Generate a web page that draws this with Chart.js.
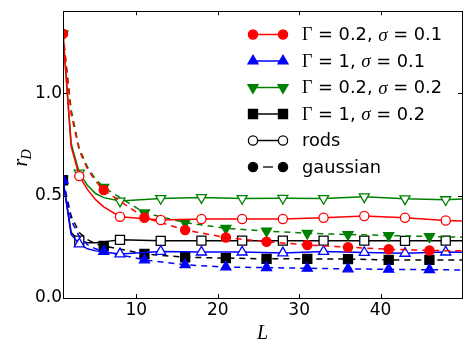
<!DOCTYPE html>
<html>
<head>
<meta charset="utf-8">
<script src="https://cdn.jsdelivr.net/npm/chart.js@4.4.0/dist/chart.umd.min.js"></script>
<style>
  html, body { margin: 0; padding: 0; background: #fff; }
  #wrap { width: 472px; height: 354px; }
</style>
</head>
<body>
<div id="wrap"><canvas id="rdChart" width="472" height="354"></canvas></div>
<script>
// Valores de L (tamano del sistema) y marcadores
const rodsL = [1, 2, 3, 4, 5, 6, 8, 13, 18, 23, 28, 33, 38, 43, 48, 50];
const gaussL = [1, 2, 3, 4, 5, 6, 11, 16, 21, 26, 31, 36, 41, 46, 50];
const rodsMarks = [3, 8, 13, 18, 23, 28, 33, 38, 43, 48];
const gaussMarks = [1, 6, 11, 16, 21, 26, 31, 36, 41, 46];

// r_D para cada caso (rods = linea continua, gaussian = linea discontinua)
const redRods = [1.29, 0.74, 0.595, 0.53, 0.48, 0.445, 0.397, 0.381, 0.386, 0.386, 0.386, 0.392, 0.400, 0.392, 0.378, 0.376];
const blueRods = [0.575, 0.31, 0.264, 0.240, 0.230, 0.225, 0.215, 0.227, 0.224, 0.224, 0.220, 0.227, 0.222, 0.218, 0.224, 0.223];
const greenRods = [1.29, 0.754, 0.61, 0.55, 0.51, 0.49, 0.473, 0.486, 0.490, 0.486, 0.487, 0.486, 0.494, 0.484, 0.480, 0.483];
const blackRods = [0.575, 0.32, 0.28, 0.27, 0.27, 0.274, 0.284, 0.279, 0.280, 0.280, 0.280, 0.280, 0.280, 0.279, 0.280, 0.280];

const redGauss = [1.29, 0.90, 0.72, 0.63, 0.57, 0.527, 0.392, 0.332, 0.295, 0.275, 0.259, 0.248, 0.238, 0.232, 0.230];
const blueGauss = [0.575, 0.38, 0.30, 0.26, 0.24, 0.227, 0.186, 0.162, 0.151, 0.148, 0.145, 0.142, 0.140, 0.138, 0.137];
const greenGauss = [1.29, 0.92, 0.73, 0.64, 0.58, 0.54, 0.416, 0.368, 0.340, 0.327, 0.316, 0.310, 0.305, 0.300, 0.297];
const blackGauss = [0.575, 0.40, 0.32, 0.285, 0.265, 0.254, 0.215, 0.199, 0.195, 0.191, 0.191, 0.190, 0.186, 0.186, 0.185];

const xTicks = [10, 20, 30, 40];
const yTicks = [0, 0.5, 1.0];

const SANS = '"DejaVu Sans", sans-serif';
const SERIF = '"Liberation Serif", "DejaVu Serif", serif';

// Estilo de cada serie
const seriesInfo = [
    { color: '#ff0000', style: 'circle', rot: 0, r: 4.6 },
    { color: '#0000ff', style: 'triangle', rot: 0, r: 5.8 },
    { color: '#008000', style: 'triangle', rot: 180, r: 5.8 },
    { color: '#000000', style: 'rect', rot: 0, r: 6.4 }
];

function toPoints(xs, ys) {
    return xs.map((x, i) => ({ x: x, y: ys[i] }));
}

function makeDataset(xs, ys, marks, info, hollow) {
    return {
        data: toPoints(xs, ys),
        borderColor: info.color,
        borderWidth: 1.5,
        borderDash: hollow ? [] : [6, 5],
        pointStyle: info.style,
        rotation: info.rot,
        pointRadius: ctx => marks.includes(ctx.raw.x) ? info.r : 0,
        pointHoverRadius: 0,
        pointBorderWidth: 1.3,
        pointBorderColor: info.color,
        pointBackgroundColor: hollow ? '#ffffff' : info.color,
        tension: 0,
        clip: 0,
        fill: false
    };
}

const rodsSets = [redRods, blueRods, greenRods, blackRods];
const gaussSets = [redGauss, blueGauss, greenGauss, blackGauss];
const datasets = [];
seriesInfo.forEach((info, i) => {
    datasets.push(makeDataset(rodsL, rodsSets[i], rodsMarks, info, true));
    datasets.push(makeDataset(gaussL, gaussSets[i], gaussMarks, info, false));
});

// Ticks hacia dentro en los cuatro lados + marco
const framePlugin = {
    id: 'framePlugin',
    afterDraw(chart) {
        const c = chart.ctx;
        const a = chart.chartArea;
        const xs = chart.scales.x, ys = chart.scales.y;
        c.save();
        c.strokeStyle = '#000';
        c.lineWidth = 1;
        xTicks.forEach(v => {
            const px = Math.round(xs.getPixelForValue(v)) + 0.5;
            c.beginPath();
            c.moveTo(px, a.bottom); c.lineTo(px, a.bottom - 4);
            c.moveTo(px, a.top); c.lineTo(px, a.top + 4);
            c.stroke();
        });
        yTicks.forEach(v => {
            const py = Math.round(ys.getPixelForValue(v)) + 0.5;
            c.beginPath();
            c.moveTo(a.left, py); c.lineTo(a.left + 4, py);
            c.moveTo(a.right, py); c.lineTo(a.right - 4, py);
            c.stroke();
        });
        c.strokeRect(Math.round(a.left) + 0.5, Math.round(a.top) + 0.5,
            Math.round(a.right - a.left), Math.round(a.bottom - a.top));

        // Etiquetas de ejes
        c.fillStyle = '#000';
        c.font = 'italic 20px ' + SERIF;
        c.textAlign = 'center';
        c.textBaseline = 'alphabetic';
        c.fillText('L', (a.left + a.right) / 2, 339);

        c.translate(27, (a.top + a.bottom) / 2 + 4);
        c.rotate(-Math.PI / 2);
        c.textAlign = 'left';
        c.font = 'italic 20px ' + SERIF;
        c.fillText('r', -8, 0);
        c.font = 'italic 14px ' + SERIF;
        c.fillText('D', -1, 4);
        c.restore();

        drawLegend(c);
    }
};

function drawRuns(c, runs, x, y) {
    runs.forEach(r => {
        c.font = r.f;
        c.fillText(r.t, x, y);
        x += c.measureText(r.t).width;
    });
}

function drawLegend(c) {
    const x1 = 253, x2 = 283, tx = 302, y0 = 34.5, dy = 26.5;
    const sans = '17.8px ' + SANS;
    const gam = '18px ' + SERIF;
    const sig = 'italic 19px ' + SERIF;
    const labels = [
        [['Γ', gam], [' = 0.2, ', sans], ['σ', sig], [' = 0.1', sans]],
        [['Γ', gam], [' = 1, ', sans], ['σ', sig], [' = 0.1', sans]],
        [['Γ', gam], [' = 0.2, ', sans], ['σ', sig], [' = 0.2', sans]],
        [['Γ', gam], [' = 1, ', sans], ['σ', sig], [' = 0.2', sans]]
    ];
    c.save();
    c.textAlign = 'left';
    c.textBaseline = 'middle';
    c.fillStyle = '#000';
    seriesInfo.forEach((info, i) => {
        const y = y0 + i * dy;
        c.strokeStyle = info.color;
        c.lineWidth = 1.5;
        c.beginPath(); c.moveTo(x1, y); c.lineTo(x2, y); c.stroke();
        c.fillStyle = info.color;
        c.lineWidth = 1.3;
        const opts = { pointStyle: info.style, rotation: info.rot, radius: info.r, borderWidth: 1.3 };
        Chart.helpers.drawPoint(c, opts, x1, y);
        Chart.helpers.drawPoint(c, opts, x2, y);
        c.fillStyle = '#000';
        drawRuns(c, labels[i].map(r => ({ t: r[0], f: r[1] })), tx, y + 1);
    });
    // rods
    let y = y0 + 4 * dy;
    c.strokeStyle = '#000';
    c.lineWidth = 1.5;
    c.beginPath(); c.moveTo(x1, y); c.lineTo(x2, y); c.stroke();
    c.fillStyle = '#fff';
    c.lineWidth = 1.3;
    const hollow = { pointStyle: 'circle', rotation: 0, radius: 4.6, borderWidth: 1.3 };
    Chart.helpers.drawPoint(c, hollow, x1, y);
    Chart.helpers.drawPoint(c, hollow, x2, y);
    c.fillStyle = '#000';
    c.font = sans;
    c.fillText('rods', tx, y + 1);
    // gaussian
    y = y0 + 5 * dy;
    c.beginPath(); c.moveTo(x1 + 10, y); c.lineTo(x2 - 10, y); c.stroke();
    Chart.helpers.drawPoint(c, hollow, x1, y);
    Chart.helpers.drawPoint(c, hollow, x2, y);
    c.fillText('gaussian', tx, y + 1);
    c.restore();
}

const ctx = document.getElementById('rdChart').getContext('2d');
const rdChart = new Chart(ctx, {
    type: 'line',
    data: { datasets: datasets },
    options: {
        responsive: false,
        animation: false,
        events: [],
        layout: { padding: { top: 10, right: 10, left: 0, bottom: 0 } },
        plugins: {
            legend: { display: false },
            tooltip: { enabled: false }
        },
        scales: {
            x: {
                type: 'linear',
                min: 1,
                max: 50,
                afterBuildTicks: s => { s.ticks = xTicks.map(v => ({ value: v })); },
                afterFit: s => { s.height = 56; },
                grid: { display: false, drawTicks: false },
                border: { display: false },
                ticks: {
                    color: '#000',
                    padding: 2,
                    font: { family: SANS, size: 17 },
                    callback: v => String(v)
                }
            },
            y: {
                type: 'linear',
                min: 0,
                max: 1.4,
                afterBuildTicks: s => { s.ticks = yTicks.map(v => ({ value: v })); },
                afterFit: s => { s.width = 63; },
                grid: { display: false, drawTicks: false },
                border: { display: false },
                ticks: {
                    color: '#000',
                    padding: 1,
                    font: { family: SANS, size: 17 },
                    callback: v => Number(v).toFixed(1)
                }
            }
        }
    },
    plugins: [framePlugin]
});
</script>
</body>
</html>
